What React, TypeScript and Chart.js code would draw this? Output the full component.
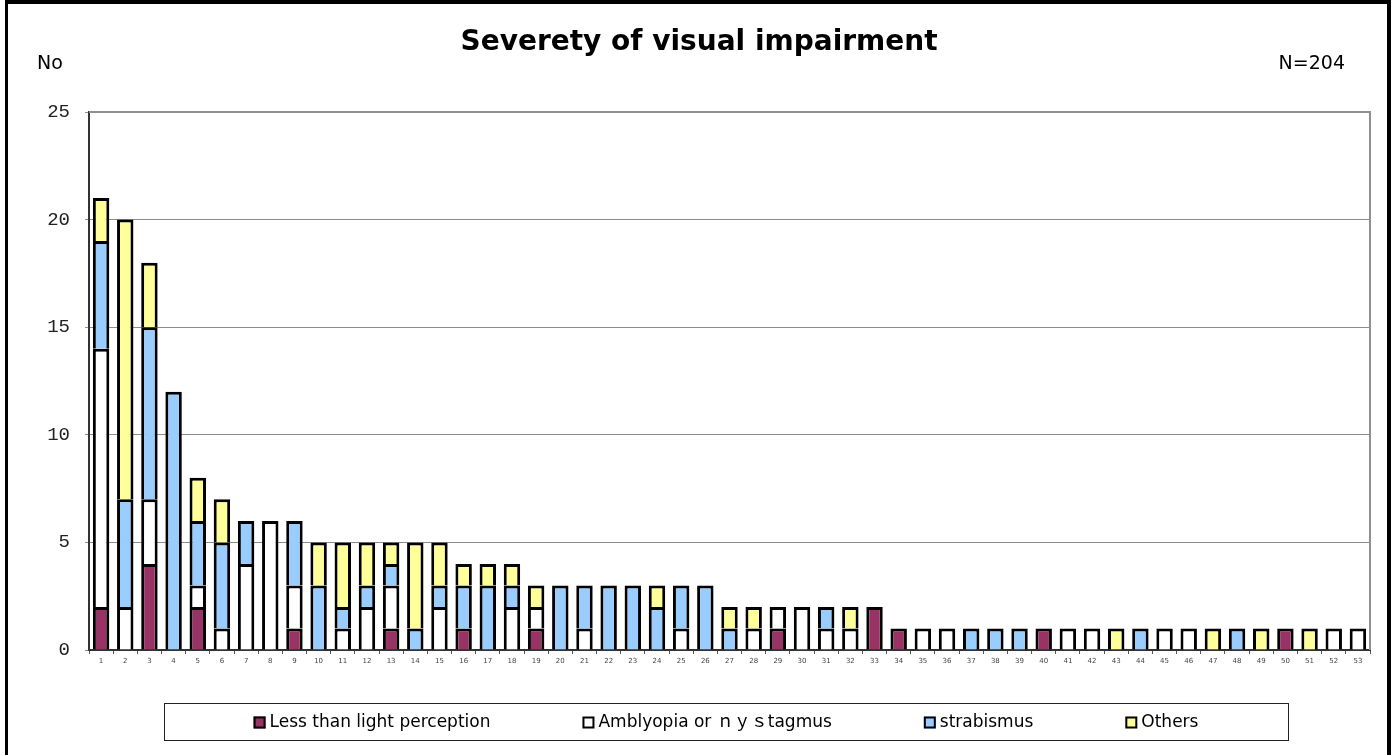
import React, { useEffect, useRef } from "react";
import { Chart, registerables } from "chart.js";

Chart.register(...registerables);

const categories = [
  "1", "2", "3", "4", "5", "6", "7", "8", "9", "10",
  "11", "12", "13", "14", "15", "16", "17", "18", "19", "20",
  "21", "22", "23", "24", "25", "26", "27", "28", "29", "30",
  "31", "32", "33", "34", "35", "36", "37", "38", "39", "40",
  "41", "42", "43", "44", "45", "46", "47", "48", "49", "50",
  "51", "52", "53",
];

const lessThanLight = [
  2, 0, 4, 0, 2, 0, 0, 0, 1, 0,
  0, 0, 1, 0, 0, 1, 0, 0, 1, 0,
  0, 0, 0, 0, 0, 0, 0, 0, 1, 0,
  0, 0, 2, 1, 0, 0, 0, 0, 0, 1,
  0, 0, 0, 0, 0, 0, 0, 0, 0, 1,
  0, 0, 0,
];
const amblyopia = [
  12, 2, 3, 0, 1, 1, 4, 6, 2, 0,
  1, 2, 2, 0, 2, 0, 0, 2, 1, 0,
  1, 0, 0, 0, 1, 0, 0, 1, 1, 2,
  1, 1, 0, 0, 1, 1, 0, 0, 0, 0,
  1, 1, 0, 0, 1, 1, 0, 0, 0, 0,
  0, 1, 1,
];
const strabismus = [
  5, 5, 8, 12, 3, 4, 2, 0, 3, 3,
  1, 1, 1, 1, 1, 2, 3, 1, 0, 3,
  2, 3, 3, 2, 2, 3, 1, 0, 0, 0,
  1, 0, 0, 0, 0, 0, 1, 1, 1, 0,
  0, 0, 0, 1, 0, 0, 0, 1, 0, 0,
  0, 0, 0,
];
const others = [
  2, 13, 3, 0, 2, 2, 0, 0, 0, 2,
  3, 2, 1, 4, 2, 1, 1, 1, 1, 0,
  0, 0, 0, 1, 0, 0, 1, 1, 0, 0,
  0, 1, 0, 0, 0, 0, 0, 0, 0, 0,
  0, 0, 1, 0, 0, 0, 1, 0, 1, 0,
  1, 0, 0,
];

const seriesLabels = [
  "Less than light perception",
  "Amblyopia or ｎｙｓtagmus",
  "strabismus",
  "Others",
];
const seriesColors = ["#993366", "#FFFFFF", "#99CCFF", "#FFFF99"];
const yTicks = [0, 5, 10, 15, 20, 25];

const titleText = "Severety of visual impairment";
const yUnitText = "No";
const totalText = "N=204";

const SANS = '"DejaVu Sans", "Noto Sans CJK JP", sans-serif';

const decorPlugin = {
  id: "decor",
  beforeDatasetsDraw(chart: any) {
    const { ctx, chartArea } = chart;
    ctx.save();
    ctx.strokeStyle = "#8f8f8f";
    ctx.lineWidth = 2;
    ctx.beginPath();
    ctx.moveTo(chartArea.left, chartArea.top);
    ctx.lineTo(chartArea.right, chartArea.top);
    ctx.lineTo(chartArea.right, chartArea.bottom);
    ctx.stroke();
    ctx.restore();
  },
  afterDraw(chart: any) {
    const { ctx, width, height } = chart;
    ctx.save();
    // outer frame
    ctx.fillStyle = "#000";
    ctx.fillRect(5, 0, width - 10, 4);
    ctx.fillRect(5, 0, 3, height);
    ctx.fillRect(width - 9, 0, 4, height);

    // title and side texts
    ctx.fillStyle = "#000";
    ctx.textBaseline = "middle";
    ctx.textAlign = "center";
    ctx.font = `bold 28px ${SANS}`;
    ctx.fillText(titleText, 699, 43);
    ctx.font = `19px ${SANS}`;
    ctx.textAlign = "left";
    ctx.fillText(yUnitText, 37, 64);
    ctx.textAlign = "right";
    ctx.fillText(totalText, 1345, 64);

    // legend
    const boxL = 164, boxT = 703, boxW = 1124, boxH = 37;
    ctx.strokeStyle = "#222";
    ctx.lineWidth = 1;
    ctx.strokeRect(boxL + 0.5, boxT + 0.5, boxW, boxH);
    ctx.font = `17px ${SANS}`;
    ctx.textAlign = "left";
    const ds = chart.data.datasets;
    const marker = 12, gapText = 4, gapItem = 92;
    const widths = ds.map((d: any) => marker + gapText + ctx.measureText(d.label).width);
    const total = widths.reduce((a: number, b: number) => a + b, 0) + gapItem * (ds.length - 1);
    let x = boxL + boxW / 2 - total / 2;
    const cy = boxT + boxH / 2 + 1;
    ds.forEach((d: any, i: number) => {
      ctx.fillStyle = d.backgroundColor;
      ctx.fillRect(x, cy - marker / 2, marker, marker);
      ctx.strokeStyle = "#000";
      ctx.lineWidth = 2;
      ctx.strokeRect(x + 1, cy - marker / 2 + 1, marker - 2, marker - 2);
      ctx.fillStyle = "#000";
      ctx.fillText(d.label, x + marker + gapText, cy);
      x += widths[i] + gapItem;
    });
    ctx.restore();
  },
};

export default function App() {
  const canvasRef = useRef<HTMLCanvasElement | null>(null);

  useEffect(() => {
    document.body.style.margin = "0";
    const canvas = canvasRef.current;
    if (!canvas) return;
    const seriesData = [lessThanLight, amblyopia, strabismus, others];
    const chart = new Chart(canvas, {
      type: "bar",
      data: {
        labels: categories,
        datasets: seriesData.map((arr, i) => ({
          label: seriesLabels[i],
          data: arr.map((v) => (v === 0 ? null : v)),
          backgroundColor: seriesColors[i],
          borderColor: "#000000",
          borderWidth: 3,
          borderSkipped: "start",
          categoryPercentage: 1,
          barPercentage: 0.68,
        })),
      },
      options: {
        animation: false,
        responsive: false,
        maintainAspectRatio: false,
        layout: { padding: { top: 112, left: 20, right: 26, bottom: 85 } },
        plugins: {
          legend: { display: false },
          title: { display: false },
          tooltip: { enabled: false },
        },
        scales: {
          x: {
            stacked: true,
            offset: true,
            afterFit: (s: any) => {
              s.height = 20;
            },
            grid: {
              offset: true,
              drawOnChartArea: false,
              drawTicks: true,
              tickLength: 4,
              color: "#555",
            },
            border: { display: true, color: "#333", width: 2 },
            ticks: {
              autoSkip: false,
              maxRotation: 0,
              minRotation: 0,
              padding: 3,
              color: "#444",
              font: { family: SANS, size: 7 },
            },
          },
          y: {
            stacked: true,
            min: 0,
            max: 25,
            afterFit: (s: any) => {
              s.width = 69;
            },
            afterBuildTicks: (s: any) => {
              s.ticks = yTicks.map((v) => ({ value: v }));
            },
            grid: {
              color: "#8c8c8c",
              lineWidth: 1,
              tickLength: 4,
              drawTicks: true,
            },
            border: { display: true, color: "#333", width: 2 },
            ticks: {
              padding: 15,
              color: "#222",
              font: { family: '"Liberation Mono", "DejaVu Sans Mono", monospace', size: 19 },
            },
          },
        },
      },
      plugins: [decorPlugin],
    });
    return () => chart.destroy();
  }, []);

  return (
    <div style={{ position: "absolute", left: 0, top: 0, width: 1396, height: 755, background: "#fff" }}>
      <canvas ref={canvasRef} width={1396} height={755} style={{ display: "block" }} />
    </div>
  );
}
